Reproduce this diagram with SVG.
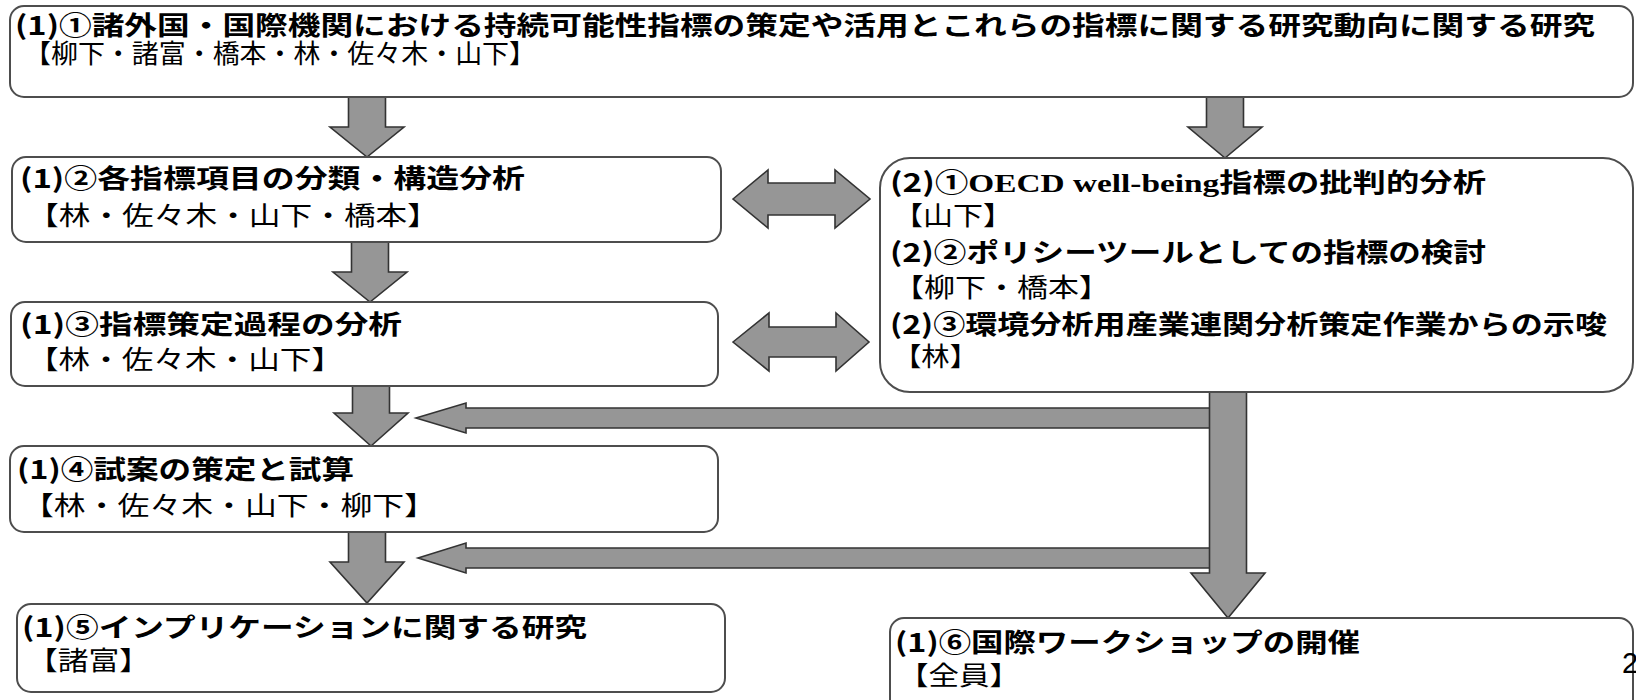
<svg xmlns="http://www.w3.org/2000/svg" width="1636" height="700" viewBox="0 0 1636 700">
<style>
.box{fill:#fff;stroke:#4d4d4d;stroke-width:2}
.arr{fill:#969696;stroke:#333;stroke-width:1.6;stroke-linejoin:miter}
.t{font-family:"Noto Sans CJK JP","Noto Sans CJK SC",sans-serif;font-size:26px;font-weight:bold;fill:#000}
.m{font-family:"Noto Sans CJK JP","Noto Sans CJK SC",sans-serif;font-size:26px;font-weight:normal;fill:#000}
.s{font-family:"Liberation Serif",serif;font-weight:bold}
.pg{font-family:"Liberation Sans",Arial,sans-serif;font-size:29px;fill:#000}
</style>
<rect width="1636" height="700" fill="#fff"/>
<g id="connectors">
<polygon class="arr" points="348.5,97 385.5,97 385.5,127 404,127 367,157 330,127 348.5,127"/>
<polygon class="arr" points="351.5,242 388.5,242 388.5,272 407,272 370,302 333,272 351.5,272"/>
<polygon class="arr" points="352.5,386 389.5,386 389.5,413 408,413 371,446 334,413 352.5,413"/>
<polygon class="arr" points="348.5,532 385.5,532 385.5,562 404,562 367,603 330,562 348.5,562"/>
<polygon class="arr" points="1206.5,97 1243.5,97 1243.5,127 1262,127 1225,158 1188,127 1206.5,127"/>
<polygon class="arr" points="733,199 768,170 768,183 835,183 835,170 870,199 835,228 835,215 768,215 768,228"/>
<polygon class="arr" points="733,342 769,313 769,327 836,327 836,313 869,342 836,371 836,357 769,357 769,371"/>
<polygon class="arr" points="1210,408 466,408 466,403 416,418 466,433 466,428 1210,428"/>
<polygon class="arr" points="1210,548 466,548 466,543 418,558 466,573 466,568 1210,568"/>
<polygon class="arr" points="1209.5,391 1246.5,391 1246.5,573 1265,573 1228,618 1191,573 1209.5,573"/>
</g>
<g id="n1">
<rect class="box" x="10" y="6" width="1623" height="91" rx="14"/>
<text class="t" x="15" y="35" textLength="1580" lengthAdjust="spacingAndGlyphs">(1)①諸外国・国際機関における持続可能性指標の策定や活用とこれらの指標に関する研究動向に関する研究</text>
<text class="m" x="24" y="63" textLength="512" lengthAdjust="spacingAndGlyphs">【柳下・諸富・橋本・林・佐々木・山下】</text>
</g>
<g id="n2">
<rect class="box" x="12" y="157" width="709" height="85" rx="14"/>
<text class="t" x="20" y="188" textLength="505" lengthAdjust="spacingAndGlyphs">(1)②各指標項目の分類・構造分析</text>
<text class="m" x="27" y="225" textLength="412" lengthAdjust="spacingAndGlyphs">【林・佐々木・山下・橋本】</text>
</g>
<g id="n3">
<rect class="box" x="11" y="302" width="707" height="84" rx="14"/>
<text class="t" x="20" y="334" textLength="382" lengthAdjust="spacingAndGlyphs">(1)③指標策定過程の分析</text>
<text class="m" x="27" y="369" textLength="316" lengthAdjust="spacingAndGlyphs">【林・佐々木・山下】</text>
</g>
<g id="n4">
<rect class="box" x="10" y="446" width="708" height="86" rx="14"/>
<text class="t" x="17" y="479" textLength="337" lengthAdjust="spacingAndGlyphs">(1)④試案の策定と試算</text>
<text class="m" x="22" y="515" textLength="414" lengthAdjust="spacingAndGlyphs">【林・佐々木・山下・柳下】</text>
</g>
<g id="n5">
<rect class="box" x="17" y="604" width="708" height="88" rx="14"/>
<text class="t" x="22" y="637" textLength="565" lengthAdjust="spacingAndGlyphs">(1)⑤インプリケーションに関する研究</text>
<text class="m" x="27" y="670" textLength="123" lengthAdjust="spacingAndGlyphs">【諸富】</text>
</g>
<g id="n7">
<rect class="box" x="880" y="158" width="753" height="234" rx="30"/>
<text class="t" x="890" y="192" textLength="596" lengthAdjust="spacingAndGlyphs">(2)①<tspan class="s">OECD well-being</tspan>指標の批判的分析</text>
<text class="m" x="893" y="225" textLength="120" lengthAdjust="spacingAndGlyphs">【山下】</text>
<text class="t" x="890" y="262" textLength="596" lengthAdjust="spacingAndGlyphs">(2)②ポリシーツールとしての指標の検討</text>
<text class="m" x="893" y="297" textLength="217" lengthAdjust="spacingAndGlyphs">【柳下・橋本】</text>
<text class="t" x="890" y="334" textLength="717" lengthAdjust="spacingAndGlyphs">(2)③環境分析用産業連関分析策定作業からの示唆</text>
<text class="m" x="893" y="366" textLength="85" lengthAdjust="spacingAndGlyphs">【林】</text>
</g>
<g id="n6">
<rect class="box" x="890" y="618" width="743" height="110" rx="14"/>
<text class="t" x="895" y="652" textLength="465" lengthAdjust="spacingAndGlyphs">(1)⑥国際ワークショップの開催</text>
<text class="m" x="898" y="685" textLength="122" lengthAdjust="spacingAndGlyphs">【全員】</text>
</g>
<text class="pg" x="1622" y="673">2</text>
</svg>
